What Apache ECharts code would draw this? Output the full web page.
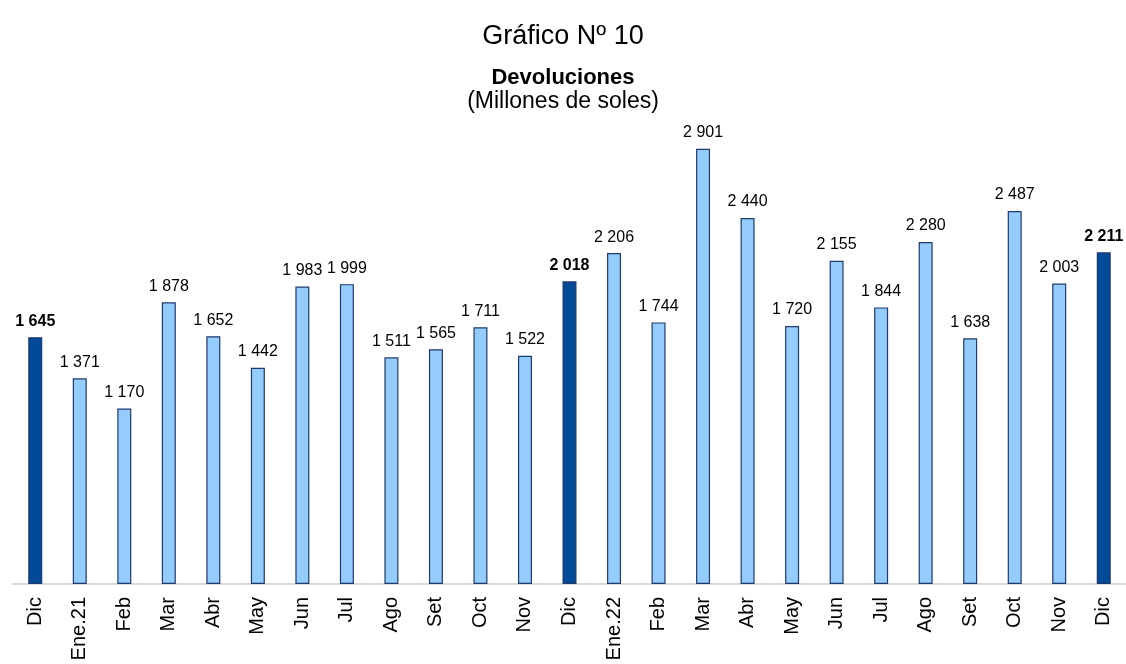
<!DOCTYPE html>
<html>
<head>
    <meta charset="UTF-8">
    <title>Devoluciones</title>
    <script src="https://cdn.jsdelivr.net/npm/echarts@6/dist/echarts.min.js"></script>
    <style>
        body, html { margin: 0; padding: 0; background: #fff; }
        #chart { width: 1126px; height: 664px; }
    </style>
</head>
<body>
<div id="chart"></div>
<script>
    var meses = ['Dic', 'Ene.21', 'Feb', 'Mar', 'Abr', 'May', 'Jun', 'Jul', 'Ago', 'Set', 'Oct', 'Nov',
        'Dic', 'Ene.22', 'Feb', 'Mar', 'Abr', 'May', 'Jun', 'Jul', 'Ago', 'Set', 'Oct', 'Nov', 'Dic'];
    var devoluciones = [1645, 1371, 1170, 1878, 1652, 1442, 1983, 1999, 1511, 1565, 1711, 1522,
        2018, 2206, 1744, 2901, 2440, 1720, 2155, 1844, 2280, 1638, 2487, 2003, 2211];
    // diciembres resaltados
    var resaltados = [0, 12, 24];

    function fmt(v) {
        return String(v).replace(/\B(?=(\d{3})+(?!\d))/g, ' ');
    }

    var datos = devoluciones.map(function (v, i) {
        var dic = resaltados.indexOf(i) >= 0;
        return {
            value: v,
            itemStyle: { color: dic ? '#004A98' : '#94CCFB' },
            label: { fontWeight: dic ? 'bold' : 'normal' }
        };
    });

    var chart = echarts.init(document.getElementById('chart'), null, {renderer: 'canvas'});
    chart.setOption({
        animation: false,
        textStyle: { fontFamily: 'Liberation Sans, Arial, sans-serif' },
        title: [
            { text: 'Gráfico Nº 10', left: 'center', top: 18,
              textStyle: { fontSize: 27, fontWeight: 'normal', color: '#000' } },
            { text: 'Devoluciones', left: 'center', top: 62,
              textStyle: { fontSize: 22, fontWeight: 'bold', color: '#000' } },
            { text: '(Millones de soles)', left: 'center', top: 85,
              textStyle: { fontSize: 23, fontWeight: 'normal', color: '#000' } }
        ],
        grid: { left: 13, right: 0, top: 134, bottom: 80 },
        xAxis: {
            type: 'category',
            data: meses,
            axisLine: { lineStyle: { color: '#d9d9d9', width: 2 } },
            axisTick: { show: false },
            axisLabel: { rotate: 90, fontSize: 20, color: '#000', margin: 13, interval: 0 }
        },
        yAxis: {
            type: 'value', min: 0, max: 3000,
            show: false,
            splitLine: { show: false }
        },
        series: [{
            type: 'bar',
            data: datos,
            barWidth: 14,
            itemStyle: { borderColor: '#1F3A6E', borderWidth: 1.2 },
            label: {
                show: true, position: 'top', distance: 8,
                fontSize: 16, color: '#000',
                formatter: function (p) { return fmt(p.value); }
            }
        }]
    });
</script>
</body>
</html>
